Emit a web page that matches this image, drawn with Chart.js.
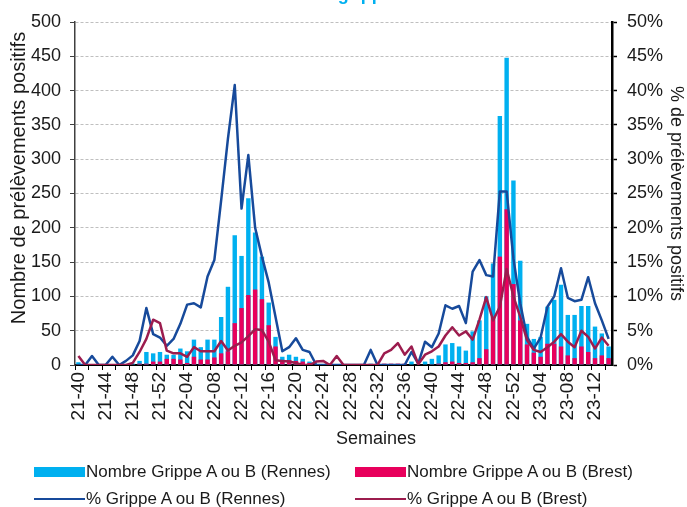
<!DOCTYPE html>
<html lang="fr">
<head>
<meta charset="utf-8">
<title>Grippe</title>
<script src="https://cdn.jsdelivr.net/npm/chart.js@4.4.0/dist/chart.umd.min.js"></script>
<style>
  html, body { margin: 0; padding: 0; background: #fff; }
  #wrap { position: relative; width: 687px; height: 507px; overflow: hidden;
          font-family: "Liberation Sans", Arial, sans-serif; }
  #graf { position: absolute; left: 0; top: 0; }
  .titre { position: absolute; left: 288px; top: -16px; font-size: 18px; line-height: 20px;
           font-weight: bold; color: #00B0F0; white-space: nowrap; }
  .axe-x { position: absolute; left: 300px; width: 152px; top: 428px; text-align: center;
           font-size: 18px; line-height: 20px; color: #1a1a1a; }
  .axe-y { position: absolute; left: -132px; top: 166px; width: 300px; height: 24px;
           line-height: 24px; text-align: center; font-size: 20px; color: #1a1a1a;
           white-space: nowrap; transform: rotate(-90deg); transform-origin: 50% 50%; }
  .leg { position: absolute; display: flex; align-items: center; height: 20px;
         font-size: 17px; color: #1a1a1a; white-space: nowrap; }
  .leg .box { width: 51px; height: 10px; margin-right: 1px; }
  .leg .trait { width: 51px; height: 2.5px; margin-right: 1px; }
</style>
</head>
<body>
<div id="wrap">
  <canvas id="graf" width="687" height="507"></canvas>
  <div class="titre">Virus grippaux</div>
  <div class="axe-y">Nombre de prélèvements positifs</div>
  <div class="axe-x">Semaines</div>
  <div class="leg" style="left:34px; top:462px;"><span class="box" style="background:#00B0F0"></span>Nombre Grippe A ou B (Rennes)</div>
  <div class="leg" style="left:355px; top:462px;"><span class="box" style="background:#E8005C"></span>Nombre Grippe A ou B (Brest)</div>
  <div class="leg" style="left:34px; top:489px;"><span class="trait" style="background:#174A9B"></span>% Grippe A ou B (Rennes)</div>
  <div class="leg" style="left:355px; top:489px;"><span class="trait" style="background:#9C1C4E"></span>% Grippe A ou B (Brest)</div>
</div>
<script>
// semaines 21-40 -> 23-14
const semaines = [
  '21-40','21-41','21-42','21-43','21-44','21-45','21-46','21-47','21-48','21-49','21-50','21-51','21-52',
  '22-01','22-02','22-03','22-04','22-05','22-06','22-07','22-08','22-09','22-10','22-11','22-12','22-13',
  '22-14','22-15','22-16','22-17','22-18','22-19','22-20','22-21','22-22','22-23','22-24','22-25','22-26',
  '22-27','22-28','22-29','22-30','22-31','22-32','22-33','22-34','22-35','22-36','22-37','22-38','22-39',
  '22-40','22-41','22-42','22-43','22-44','22-45','22-46','22-47','22-48','22-49','22-50','22-51','22-52',
  '23-01','23-02','23-03','23-04','23-05','23-06','23-07','23-08','23-09','23-10','23-11','23-12','23-13','23-14'
];

// nombre de prelevements positifs
const nbRennes = [
  4, 1, 0, 0, 0, 0, 0, 0, 2, 6, 19, 17, 19,
  15, 15, 24, 20, 37, 26, 37, 37, 70, 114, 189, 159, 243,
  193, 158, 91, 41, 12, 15, 12, 9, 5, 1, 0, 0, 0,
  0, 0, 0, 0, 2, 0, 0, 0, 1, 0, 5, 1, 5,
  9, 14, 30, 32, 27, 21, 49, 65, 100, 148, 363, 448, 269,
  152, 60, 38, 41, 85, 95, 117, 73, 73, 86, 86, 56, 46, 27
];
const nbBrest = [
  1, 0, 0, 0, 0, 0, 0, 0, 0, 2, 2, 5, 5,
  9, 9, 8, 3, 12, 8, 8, 11, 17, 20, 61, 83, 102,
  110, 96, 58, 27, 5, 7, 6, 5, 3, 1, 0, 0, 1,
  0, 0, 0, 0, 0, 1, 2, 2, 2, 2, 0, 0, 0,
  1, 2, 4, 5, 3, 3, 4, 10, 23, 70, 158, 227, 118,
  65, 30, 18, 12, 31, 31, 27, 14, 10, 27, 19, 10, 14, 10
];

// % de prelevements positifs
const pctRennes = [
  0, 0, 1.3, 0, 0, 1.2, 0, 0.6, 1.4, 3.5, 8.3, 4.5, 4.0,
  2.8, 3.8, 6.0, 8.8, 9.0, 8.4, 12.9, 15.3, 24.0, 33.0, 40.8, 22.8, 30.6,
  20.0, 15.8, 12.0, 7.0, 2.0, 2.6, 3.9, 2.2, 1.9, 0, 0, 0, 0,
  0, 0, 0, 0, 2.2, 0, 0, 0, 0, 0, 1.9, 0.2, 3.4,
  2.6, 4.6, 8.7, 8.2, 8.6, 6.1, 13.6, 15.3, 13.1, 12.9, 25.3, 25.3, 15.5,
  9.0, 4.1, 2.4, 4.0, 8.5, 10.0, 14.1, 9.8, 9.3, 9.5, 12.8, 9.0, 6.5, 3.8
];
const pctBrest = [
  1.3, 0, 0, 0, 0, 0, 0, 0, 0.3, 1.9, 3.8, 6.6, 6.1,
  2.1, 1.7, 1.7, 1.2, 2.6, 2.0, 2.0, 2.0, 3.5, 2.1, 2.8, 3.3, 4.2,
  5.2, 5.1, 3.4, 0.7, 0.6, 0.5, 0.3, 0, 0, 0.5, 0.6, 0, 1.3,
  0, 0, 0, 0, 0, 0, 1.7, 2.2, 3.2, 1.5, 2.7, 0.1, 1.5,
  2.0, 2.7, 4.3, 5.5, 4.3, 4.9, 3.7, 6.6, 9.9, 6.5, 8.5, 14.0, 10.0,
  7.0, 3.6, 2.2, 1.9, 2.6, 3.4, 4.5, 3.4, 2.6, 5.0, 4.1, 2.4, 4.0, 2.8
];

// graduations
const ticksNombre = [0, 50, 100, 150, 200, 250, 300, 350, 400, 450, 500];
const ticksPct = [0, 5, 10, 15, 20, 25, 30, 35, 40, 45, 50];

const famille = '"Liberation Sans", Arial, sans-serif';
const police = { family: famille, size: 18 };

const ctx = document.getElementById('graf').getContext('2d');
const graf = new Chart(ctx, {
  type: 'bar',
  data: {
    labels: semaines,
    datasets: [
      {
        type: 'line',
        label: '% Grippe A ou B (Brest)',
        data: pctBrest,
        yAxisID: 'y1',
        borderColor: '#9C1C4E',
        borderWidth: 2.5,
        pointRadius: 0,
        tension: 0,
        borderJoinStyle: 'round',
        order: 0
      },
      {
        type: 'line',
        label: '% Grippe A ou B (Rennes)',
        data: pctRennes,
        yAxisID: 'y1',
        borderColor: '#174A9B',
        borderWidth: 2.5,
        pointRadius: 0,
        tension: 0,
        borderJoinStyle: 'round',
        order: 1
      },
      {
        label: 'Nombre Grippe A ou B (Brest)',
        data: nbBrest,
        yAxisID: 'y',
        backgroundColor: '#E8005C',
        grouped: false,
        barPercentage: 0.65,
        categoryPercentage: 1,
        order: 2
      },
      {
        label: 'Nombre Grippe A ou B (Rennes)',
        data: nbRennes,
        yAxisID: 'y',
        backgroundColor: '#00B0F0',
        grouped: false,
        barPercentage: 0.65,
        categoryPercentage: 1,
        order: 3
      }
    ]
  },
  options: {
    responsive: false,
    animation: false,
    layout: { padding: { left: 0, right: 0, top: 22, bottom: 57 } },
    plugins: {
      legend: { display: false },
      tooltip: { enabled: false }
    },
    scales: {
      x: {
        offset: true,
        afterFit: (s) => { s.height = 85; },
        border: { color: '#000', width: 2 },
        grid: {
          drawOnChartArea: false,
          tickLength: 5,
          tickWidth: 1,
          tickColor: (c) => (c.index % 2 === 0 ? '#000' : 'rgba(0,0,0,0)')
        },
        ticks: {
          autoSkip: false,
          minRotation: 90,
          maxRotation: 90,
          padding: 2,
          color: '#1a1a1a',
          font: { family: famille, size: 19 },
          callback: (v, i) => (i % 4 === 0 ? semaines[i] : '')
        }
      },
      y: {
        position: 'left',
        min: 0,
        max: 500,
        afterFit: (s) => { s.width = 75; },
        afterBuildTicks: (s) => { s.ticks = ticksNombre.map(v => ({ value: v })); },
        border: { color: '#404040', width: 1.5, dash: [3, 2] },
        grid: { color: '#BFBFBF', lineWidth: 1, tickColor: '#404040', tickLength: 5 },
        ticks: { padding: 9, color: '#1a1a1a', font: police }
      },
      y1: {
        position: 'right',
        min: 0,
        max: 50,
        afterFit: (s) => { s.width = 75; },
        afterBuildTicks: (s) => { s.ticks = ticksPct.map(v => ({ value: v })); },
        border: { color: '#000', width: 2.5 },
        grid: { drawOnChartArea: false, tickColor: '#000', tickLength: 5, tickWidth: 1.5 },
        ticks: { padding: 10, color: '#1a1a1a', font: police, callback: (v) => v + '%' },
        title: {
          display: true,
          text: '% de prélèvements positifs',
          color: '#1a1a1a',
          font: police,
          padding: { top: 0, bottom: 0 }
        }
      }
    }
  }
});
</script>
</body>
</html>
